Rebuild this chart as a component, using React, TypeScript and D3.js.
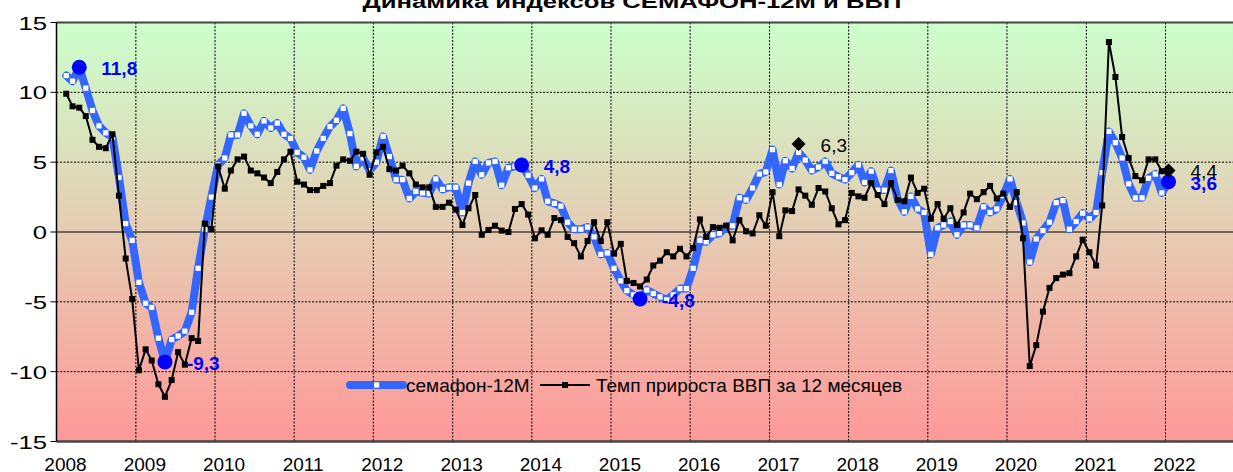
import * as d3 from 'd3'

// семафон-12М, monthly, Feb 2008 .. Jan 2022
const semafon2008 = [11.2, 10.8, 11.8, 10.3, 8.7, 7.6, 7.1, 6.8, 3.9, 0.6, -0.6]
const semafon2009 = [-3.6, -5.1, -5.4, -7.6, -9.3, -7.7, -7.45, -7.1, -5.75, -2.6, 0.2, 2.5]
const semafon2010 = [4.8, 5.3, 6.95, 6.95, 8.5, 7.6, 7.0, 7.95, 7.45, 7.8, 7.0, 6.7]
const semafon2011 = [5.7, 5.35, 4.45, 5.8, 6.7, 7.55, 8.0, 8.85, 7.05, 4.7, 5.3, 4.4]
const semafon2012 = [5.0, 6.85, 5.4, 3.75, 3.75, 2.4, 2.9, 2.8, 2.75, 3.8, 3.05, 3.2]
const semafon2013 = [3.2, 1.4, 3.5, 5.05, 4.1, 4.95, 5.05, 3.35, 4.6, 4.7, 4.8, 4.05]
const semafon2014 = [3.15, 3.8, 2.2, 2.05, 1.85, 0.7, 0.2, 0.2, 0.35, -0.35, -1.6, -1.5]
const semafon2015 = [-2.6, -3.5, -4.2, -4.5, -4.8, -4.15, -4.4, -4.65, -4.85, -4.5, -4.05, -4.05]
const semafon2016 = [-2.6, -0.6, -0.7, -0.2, -0.1, 0.4, 0.45, 2.45, 2.3, 3.15, 4.15, 4.3]
const semafon2017 = [5.9, 3.4, 5.1, 4.55, 5.7, 5.15, 4.4, 4.65, 5.05, 4.2, 3.95, 3.75]
const semafon2018 = [4.25, 4.8, 3.55, 4.35, 3.0, 3.0, 4.4, 2.35, 1.45, 2.55, 1.65, 1.4]
const semafon2019 = [-1.6, 0.3, 0.5, 0.75, -0.2, 0.5, 0.5, 0.3, 1.8, 1.4, 1.65, 2.6]
const semafon2020 = [3.8, 2.1, 0.65, -2.15, -0.5, 0.1, 0.7, 2.1, 2.25, 0.2, 0.75, 1.35]
const semafon2021 = [0.95, 1.4, 4.25, 7.2, 6.4, 5.3, 3.45, 2.45, 2.45, 3.85, 4.15, 2.8]
const semafon2022 = [3.55]

// Темп прироста ВВП за 12 месяцев, monthly, Feb 2008 .. Jan 2022
const gdp2008 = [9.9, 9.0, 8.9, 8.3, 6.6, 6.1, 6.0, 7.0, 2.6, -1.9, -4.8]
const gdp2009 = [-9.9, -8.4, -9.2, -10.9, -11.8, -10.6, -8.6, -9.5, -7.6, -7.8, 0.6, 0.2]
const gdp2010 = [4.7, 3.1, 4.4, 5.2, 5.4, 4.4, 4.2, 3.9, 3.5, 4.3, 5.2, 5.75]
const gdp2011 = [3.6, 3.4, 3.0, 3.0, 3.3, 3.5, 4.75, 5.2, 5.1, 5.75, 5.6, 4.1]
const gdp2012 = [5.7, 6.1, 4.5, 4.4, 4.75, 4.2, 3.4, 3.2, 3.2, 1.8, 1.8, 2.1]
const gdp2013 = [1.6, 0.5, 1.7, 2.65, -0.2, 0.15, 0.45, 0.1, 0.0, 1.65, 2.0, 1.25]
const gdp2014 = [-0.45, 0.12, -0.2, 1.0, 0.85, -0.35, -0.8, -1.75, -0.65, 0.7, -0.65, 0.7]
const gdp2015 = [-1.55, -0.85, -3.5, -3.65, -3.9, -3.4, -2.4, -2.05, -1.45, -1.75, -1.2, -1.75]
const gdp2016 = [-1.15, 0.9, -0.35, 0.35, 0.3, 0.45, -0.6, 0.85, 0.05, -0.1, 1.2, 0.45]
const gdp2017 = [2.85, -0.3, 1.55, 1.5, 3.05, 2.6, 1.95, 3.15, 2.9, 1.7, 0.55, 0.85]
const gdp2018 = [2.8, 2.55, 2.45, 3.5, 2.65, 2.0, 3.5, 2.3, 2.2, 3.9, 2.8, 3.1]
const gdp2019 = [0.95, 2.0, 0.95, 1.7, 0.5, 1.4, 2.75, 2.35, 2.85, 3.3, 2.4, 2.75]
const gdp2020 = [1.8, 2.85, -0.45, -9.6, -8.1, -5.7, -4.0, -3.3, -3.05, -2.95, -1.75, -0.55]
const gdp2021 = [-1.45, -2.4, 1.9, 13.6, 11.1, 6.8, 5.3, 4.0, 3.7, 5.2, 5.2, 4.35]
const gdp2022 = [4.4]

const semafon = [
  ...semafon2008, ...semafon2009, ...semafon2010, ...semafon2011, ...semafon2012,
  ...semafon2013, ...semafon2014, ...semafon2015, ...semafon2016, ...semafon2017,
  ...semafon2018, ...semafon2019, ...semafon2020, ...semafon2021, ...semafon2022,
]
const gdp = [
  ...gdp2008, ...gdp2009, ...gdp2010, ...gdp2011, ...gdp2012,
  ...gdp2013, ...gdp2014, ...gdp2015, ...gdp2016, ...gdp2017,
  ...gdp2018, ...gdp2019, ...gdp2020, ...gdp2021, ...gdp2022,
]

// labelled points (month index from Feb 2008)
const semafonMarkIdx = [2, 15, 69, 87, 167]
const semafonMarkValues = [11.8, -9.3, 4.8, -4.8, 3.6]
const semafonMarkLabels = ['11,8', '-9,3', '4,8', '-4,8', '3,6']
const gdpMarkIdx = [111, 167]
const gdpMarkValues = [6.3, 4.4]
const gdpMarkLabels = ['6,3', '4,4']

const yTicks = [15, 10, 5, 0, -5, -10, -15]
const yearTicks = d3.range(2008, 2023)

const months = semafon.map((_, i) => new Date(2008, 1 + i, 15))

const W = 1233
const H = 472
const left = 56.5
const top = 22.5
const bottom = 441.5
const font = '"Liberation Sans", Arial, sans-serif'

const x = d3
  .scaleTime()
  .domain([new Date(2008, 0, 1), new Date(2022, 0, 1)])
  .range([left, 1165.5])
const y = d3.scaleLinear().domain([-15, 15]).range([bottom, top])
const right = W + 10

const App = () => {
  const line = d3
    .line<number>()
    .x((_, i) => x(months[i]))
    .y((d) => y(d))

  return (
    <svg
      width={W}
      height={H}
      style={{ position: 'absolute', left: 0, top: 0, background: '#fff', fontFamily: font }}
    >
      <defs>
        <linearGradient id="bg" x1="0" y1="0" x2="0" y2="1">
          <stop offset="0%" stopColor="#ccffcc" />
          <stop offset="100%" stopColor="#ff9999" />
        </linearGradient>
      </defs>

      <text transform="translate(632,8) scale(1.35,1)" textAnchor="middle" fontSize={19} fontWeight="bold" fill="#000">
        Динамика индексов СЕМАФОН-12М и ВВП
      </text>

      <rect x={left} y={top} width={right - left} height={bottom - top} fill="url(#bg)" />

      {/* grid */}
      {yTicks
        .filter((t) => t !== 0 && t !== 15 && t !== -15)
        .map((t) => (
          <line key={'gy' + t} x1={left} x2={right} y1={y(t)} y2={y(t)} stroke="#000" strokeWidth={1} strokeDasharray="2,1.5" />
        ))}
      {yearTicks
        .filter((yr) => yr !== 2008)
        .map((yr) => {
          const gx = x(new Date(yr, 0, 1))
          return <line key={'gx' + yr} x1={gx} x2={gx} y1={top} y2={bottom} stroke="#000" strokeWidth={1} strokeDasharray="2,1.5" />
        })}
      <line x1={left} x2={right} y1={y(0)} y2={y(0)} stroke="#000" strokeWidth={1} />

      {/* frame */}
      <line x1={left} x2={right} y1={top} y2={top} stroke="#444" strokeWidth={2} />
      <line x1={left} x2={right} y1={bottom} y2={bottom} stroke="#444" strokeWidth={2.5} />
      <line x1={left} x2={left} y1={top} y2={bottom} stroke="#000" strokeWidth={1.5} />

      {/* y axis */}
      {yTicks.map((t) => (
        <g key={'yt' + t}>
          <line x1={left - 6} x2={left} y1={y(t)} y2={y(t)} stroke="#000" strokeWidth={1} />
          <text transform={`translate(47,${y(t) + 7}) scale(1.35,1)`} textAnchor="end" fontSize={19} fill="#000">
            {t}
          </text>
        </g>
      ))}

      {/* x axis labels */}
      {yearTicks.map((yr) => (
        <text key={'xl' + yr} x={x(new Date(yr, 0, 1)) + 9} y={471} textAnchor="middle" fontSize={19} fill="#000">
          {yr}
        </text>
      ))}

      {/* семафон-12М */}
      <path d={line(semafon) ?? ''} fill="none" stroke="#3366ff" strokeWidth={8} strokeLinejoin="round" strokeLinecap="round" />
      {semafon.map((v, i) => (
        <rect key={'bs' + i} x={x(months[i]) - 2.6} y={y(v) - 2.6} width={5.2} height={5.2} fill="#fff" />
      ))}

      {/* ВВП */}
      <path d={line(gdp) ?? ''} fill="none" stroke="#000" strokeWidth={2} strokeLinejoin="round" />
      {gdp.slice(0, gdp.length - 1).map((v, i) => (
        <rect key={'ks' + i} x={x(months[i]) - 3} y={y(v) - 3} width={6} height={6} fill="#000" />
      ))}

      {/* marked points */}
      {semafonMarkIdx.map((idx, k) => {
        const cx = x(months[idx])
        const cy = y(semafonMarkValues[k])
        return (
          <g key={'sm' + k}>
            <circle cx={cx} cy={cy} r={7.5} fill="#0000ff" />
            <text x={cx + 22} y={cy + 8} fontSize={19} fontWeight="bold" fill="#0000ff">
              {semafonMarkLabels[k]}
            </text>
          </g>
        )
      })}
      {gdpMarkIdx.map((idx, k) => {
        const cx = x(months[idx])
        const cy = y(gdpMarkValues[k])
        return (
          <g key={'gm' + k}>
            <path d={`M${cx},${cy - 7}L${cx + 7},${cy}L${cx},${cy + 7}L${cx - 7},${cy}Z`} fill="#000" />
            <text x={cx + 22} y={cy + 7.5} fontSize={19} fill="#000">
              {gdpMarkLabels[k]}
            </text>
          </g>
        )
      })}

      {/* legend */}
      <line x1={350} x2={403} y1={385} y2={385} stroke="#3366ff" strokeWidth={8} strokeLinecap="round" />
      <rect x={374} y={382.4} width={5.2} height={5.2} fill="#fff" />
      <text x={406} y={391.5} fontSize={19} fill="#000">
        семафон-12М
      </text>
      <line x1={540} x2={590} y1={385} y2={385} stroke="#000" strokeWidth={2} />
      <rect x={562} y={382} width={6} height={6} fill="#000" />
      <text x={596} y={391.5} fontSize={19} fill="#000">
        Темп прироста ВВП за 12 месяцев
      </text>
    </svg>
  )
}

export default App
